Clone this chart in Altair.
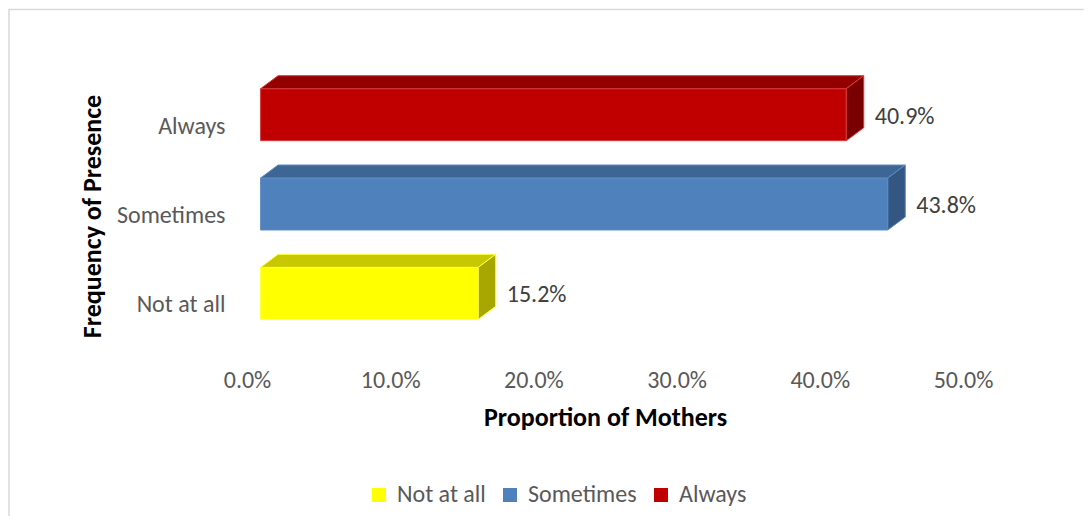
import altair as alt
import pandas as pd

# ---- data ----
categories = ["Not at all", "Sometimes", "Always"]
values = [15.2, 43.8, 40.9]
x_ticks = [0, 10, 20, 30, 40, 50]

# ---- styles ----
FRONT = ["#FFFF00", "#4F81BD", "#C00000"]
TOP = ["#C8C800", "#3E6694", "#940000"]
SIDE = ["#A6A600", "#345682", "#780000"]
EDGE = ["#FFFF40", "#5E8DC4", "#D83A3A"]
FONT = "Carlito, Lato, sans-serif"

W, H = 716, 268
PAD_L, PAD_T = 239, 62
PAD_R = 1076 - W - PAD_L
PAD_B = 508 - H - PAD_T

D0 = 0.95    # depth shift of the front face (x units)
DX = 1.22    # depth along x (x units)
DY = 0.1455  # depth along y (y units)
HH = 0.291   # half height of the front face (y units)

rows_front, rows_top, rows_side = [], [], []
for i, (c, v) in enumerate(zip(categories, values)):
    yc = i + 0.5
    x0, x1 = D0, v + D0
    yb, yt = yc - HH, yc + HH
    rows_front.append(dict(cat=c, x0=x0, x1=x1, yb=yb, yt=yt, yc=yc,
                           lx=x1 + DX, label=f"{v:.1f}%", edge=EDGE[i]))
    pts = [(x0, yt, yt), (x0 + DX, yt + DY, yt), (x1, yt + DY, yt), (x1 + DX, yt + DY, yt + DY)]
    for xx, ya, yb2 in pts:
        rows_top.append(dict(cat=c, x=xx, y=ya, y2=yb2, fill=TOP[i], edge=EDGE[i]))
    pts = [(x1, yt, yb), (x1 + DX, yt + DY, yb + DY)]
    for xx, ya, yb2 in pts:
        rows_side.append(dict(cat=c, x=xx, y=ya, y2=yb2, fill=SIDE[i], edge=EDGE[i]))

front_df = pd.DataFrame(rows_front)
top_df = pd.DataFrame(rows_top)
side_df = pd.DataFrame(rows_side)

xscale = alt.Scale(domain=[0, 50], nice=False, zero=False)
yscale = alt.Scale(domain=[0, 3], nice=False, zero=False)

label_expr_y = " : ".join(
    [f"datum.value == {i + 0.5} ? '{c}'" for i, c in enumerate(categories[1:], start=1)]
    + [f"'{categories[0]}'"]
)

xaxis = alt.Axis(values=x_ticks, labelExpr="format(datum.value, '.1f') + '%'",
                 title="Proportion of Mothers", titleFontSize=26, titleFontWeight="bold",
                 titleColor="#000000", titleBaseline="alphabetic", titleY=87,
                 labelFontSize=24, labelColor="#595959", labelPadding=49,
                 labelBaseline="alphabetic", ticks=False, tickSize=0, domain=False,
                 grid=False, labelFlush=False, labelOverlap=False)
yaxis = alt.Axis(values=[0.5, 1.5, 2.5], labelExpr=label_expr_y,
                 title="Frequency of Presence", titleAngle=270, titleFontSize=26,
                 titleFontWeight="bold", titleColor="#000000", titleX=-147, titleY=146,
                 titleBaseline="alphabetic", titleAlign="center",
                 labelFontSize=24, labelColor="#595959", labelPadding=22,
                 labelBaseline="alphabetic", labelOffset=18.5, ticks=False, tickSize=0,
                 domain=False, grid=False, labelOverlap=False)

front = alt.Chart(front_df).mark_rect(strokeWidth=1).encode(
    x=alt.X("x0:Q", scale=xscale, axis=xaxis),
    x2="x1:Q",
    y=alt.Y("yb:Q", scale=yscale, axis=yaxis),
    y2="yt:Q",
    fill=alt.Fill("cat:N", scale=alt.Scale(domain=categories, range=FRONT),
                  legend=alt.Legend(orient="none", legendX=120, legendY=413,
                                    direction="horizontal", title=None,
                                    symbolType="square", symbolSize=196,
                                    symbolStrokeWidth=0, labelFontSize=24,
                                    labelColor="#595959", labelOffset=6,
                                    columnPadding=12, labelFont=FONT)),
    stroke=alt.Stroke("edge:N", scale=None),
)


def face(df):
    return alt.Chart(df).mark_area(strokeWidth=1, interpolate="linear").encode(
        x=alt.X("x:Q", scale=xscale, axis=xaxis),
        y=alt.Y("y:Q", scale=yscale, axis=yaxis, stack=None),
        y2="y2:Q",
        detail="cat:N",
        fill=alt.Fill("fill:N", scale=None),
        stroke=alt.Stroke("edge:N", scale=None),
    )


top = face(top_df)
side = face(side_df)

labels = alt.Chart(front_df).mark_text(align="left", baseline="middle", dx=11, dy=2,
                                        fontSize=24, color="#404040", font=FONT).encode(
    x=alt.X("lx:Q", scale=xscale, axis=xaxis),
    y=alt.Y("yc:Q", scale=yscale, axis=yaxis),
    text="label:N",
)

border = alt.Chart(alt.Data(values=[{"a": 1}])).mark_rect(
    fillOpacity=0, stroke="#D9D9D9", strokeWidth=1.5).encode(
    x=alt.value(-PAD_L + 1), x2=alt.value(W + PAD_R + 20),
    y=alt.value(-PAD_T + 1.5), y2=alt.value(H + PAD_B + 20),
)

chart = alt.layer(front, top, side, labels, border).resolve_scale(
    fill="independent", stroke="independent"
).properties(
    width=W, height=H,
    autosize=alt.AutoSizeParams(type="none"),
    padding={"left": PAD_L, "top": PAD_T, "right": PAD_R, "bottom": PAD_B},
    background="white",
).configure(font=FONT).configure_view(strokeWidth=0).configure_axis(
    labelFont=FONT, titleFont=FONT
)

chart.save("out.html", embed_options={"renderer": "svg", "actions": False})
